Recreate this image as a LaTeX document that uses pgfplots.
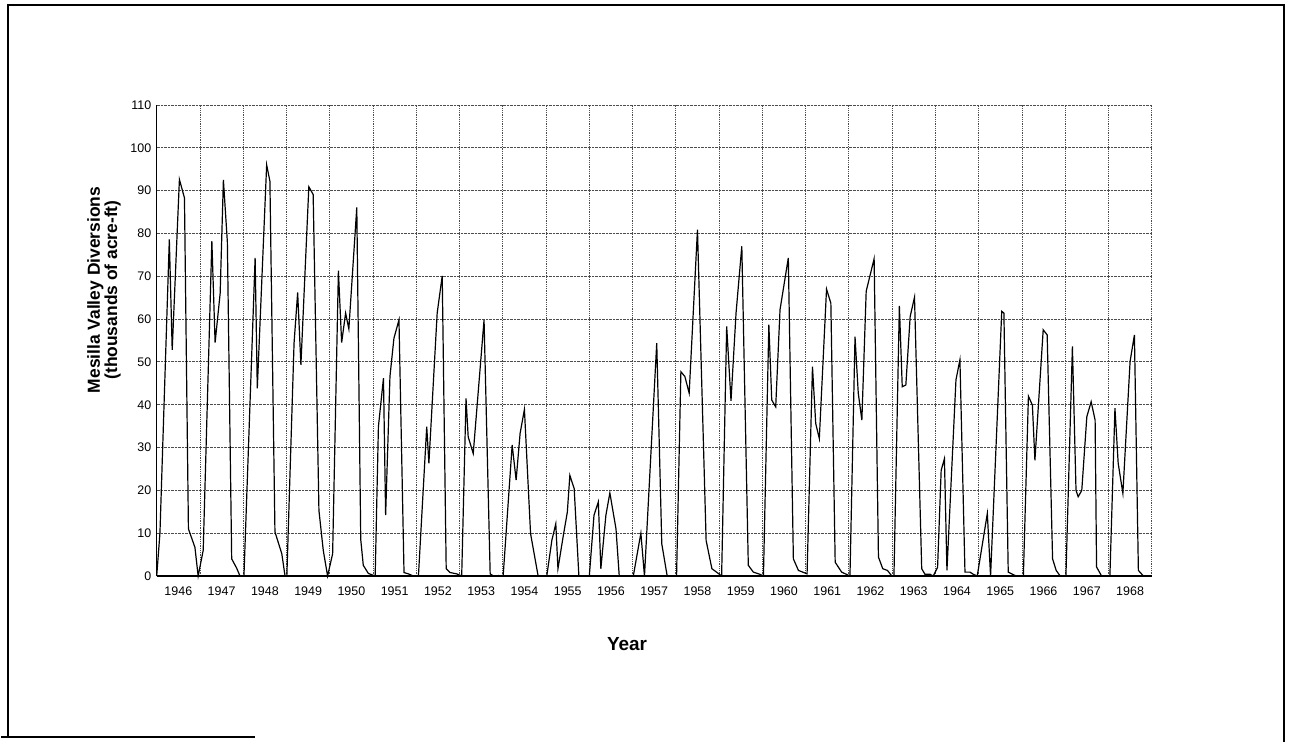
\documentclass[border=0pt]{standalone}
\usepackage{pgfplots}
\pgfplotsset{compat=1.18}
\usepackage{fontspec}
\setmainfont{Liberation Sans}
\begin{document}
\begin{tikzpicture}[x=1bp,y=1bp]
\path[use as bounding box] (0,0) rectangle (1293,742);
% outer frame of the scanned page
\draw[line width=2bp] (1,5) -- (255,5);
\draw[line width=2bp] (7.5,5) -- (7.5,737) -- (1284,737) -- (1284,0);
\begin{axis}[
  at={(156.7bp,166bp)}, anchor=south west,
  scale only axis, width=995bp, height=471bp,
  xmin=0, xmax=276, ymin=0, ymax=110,
  axis x line*=bottom, axis y line*=left,
  axis line style={line width=1.3bp, -},
  xtick={6,18,...,270},
  xticklabels={1946,1947,1948,1949,1950,1951,1952,1953,1954,1955,1956,1957,1958,1959,1960,1961,1962,1963,1964,1965,1966,1967,1968},
  minor xtick={12,24,...,276},
  ytick={0,10,...,110},
  xminorgrids, ymajorgrids,
  major tick length=0pt, minor tick length=0pt,
  grid style={densely dotted, gray!60!black, line width=0.8bp},
  minor grid style={densely dotted, gray!60!black, line width=0.8bp},
  /pgf/number format/assume math mode=true,
  ticklabel style={font=\fontsize{12.5}{14}\selectfont},
  xticklabel style={yshift=-7bp},
  yticklabel style={xshift=-2bp},
  clip=false,
]
\addplot[black, line width=1.2bp] coordinates {
(0,0) (0.9,10) (3.5,78.6) (4.3,52.8) (6.3,92.6) (7.7,88.3) (8.8,11) (10.6,6.7) (11.5,0)
(12.9,6) (15.3,78.2) (16.2,54.5) (17.6,66) (18.5,92.5) (19.6,78) (20.8,4) (22.2,1.8) (23.1,0)
(24.2,0) (27.3,74.3) (27.9,43.8) (30.5,96) (31.4,92.2) (32.8,10.3) (34.7,5.2) (35.6,0)
(36.1,0) (38.1,54.4) (39.1,66.2) (40.0,49.3) (42.2,90.9) (43.4,89.1) (45,15.3) (46.2,6) (47.4,0)
(48.8,5.2) (50.4,71.3) (51.3,54.5) (52.4,61.4) (53.3,57.7) (55.5,86.1) (56.6,8.5) (57.3,2.5) (58.7,0.6)
(60.6,0) (61.5,34.9) (62.9,46.2) (63.5,14.2) (64.7,46.6) (65.8,55.5) (67.2,59.8) (68.6,0.8) (69.8,0.5) (71.2,0)
(72.6,0) (74.9,34.9) (75.5,26.3) (77.8,61.4) (79.2,70.1) (80.3,1.7) (81.4,0.8) (83.2,0.5)
(84.6,0) (85.8,41.5) (86.4,32.5) (87.8,28.6) (90.8,59.8) (92.5,0.5) (93.4,0) (94.8,0.1)
(96.1,0) (98.6,30.6) (99.7,22.4) (100.8,33.3) (102,38.9) (103.7,9.9) (105.8,0)
(108.2,0) (109.6,8.3) (110.7,12.2) (111.3,1.7) (112.8,9.5) (113.9,14.9) (114.6,23.5) (115.8,20.4) (117.1,0.1) (118.5,0)
(120,0) (121.3,14.2) (122.5,17.3) (123.2,1.7) (124.6,14.2) (125.7,19.4) (127.4,11) (128.3,0)
(132.2,0) (134.3,10) (135.3,0) (138.7,54.4) (140.1,7.5) (141.6,0)
(144.2,0) (145.4,47.7) (146.5,46.6) (147.7,42.7) (150,80.9) (152.4,8.3) (154,1.7) (155.3,0.9)
(156.7,0) (158.1,58.3) (159.3,40.9) (160.7,61.4) (162.3,77) (164.1,2.5) (165.5,0.9) (167.3,0.4)
(168.3,0) (169.8,58.7) (170.6,41.1) (171.7,39.5) (172.9,62.2) (175.2,74.3) (176.6,4) (178,1.3)
(180.4,0.5) (181.9,48.9) (182.8,35.6) (183.8,32.1) (185.8,67) (187,63.7) (188.2,3.2) (190,0.9)
(192.3,0) (193.7,55.9) (194.6,42.7) (195.6,36.4) (196.8,66.5) (199,74.1) (200.2,4.4) (201.4,1.7) (202.7,1.3) (203.9,0)
(204.5,0) (206,63.1) (206.8,44.2) (207.8,44.6) (209,60.6) (210.2,65.1) (212.2,1.7) (213.1,0.4) (214.5,0.4) (215.4,0)
(216.6,2) (217.6,24.7) (218.5,27.4) (219.2,1.3) (221.7,45.8) (222.8,50.5) (224.2,0.9) (225.6,0.9) (226.5,0.4) (227.6,0)
(230.4,14.6) (231.3,0) (234.4,61.8) (235,61.4) (236.2,0.9) (238.4,0)
(240.4,0) (241.8,42) (242.9,39.9) (243.6,27) (245.9,57.5) (247,56.3) (248.5,4) (249.5,1.3) (250.6,0)
(252.2,0) (254,53.6) (255,20) (255.6,18.5) (256.6,20) (258,37.2) (259.2,40.7) (260.3,36.4) (260.7,2.1) (262.1,0)
(264.4,0) (265.8,39.2) (266.7,26.3) (268,19.3) (270,50.1) (271.2,56.3) (272.3,1.3) (273.7,0) (275.1,0)
};
\end{axis}
\node[rotate=90, align=center, font=\bfseries\fontsize{17.5}{15}\selectfont] at (104,452)
  {Mesilla Valley Diversions\\(thousands of acre-ft)};
\node[font=\bfseries\fontsize{19}{20}\selectfont] at (627,98) {Year};
\end{tikzpicture}
\end{document}
